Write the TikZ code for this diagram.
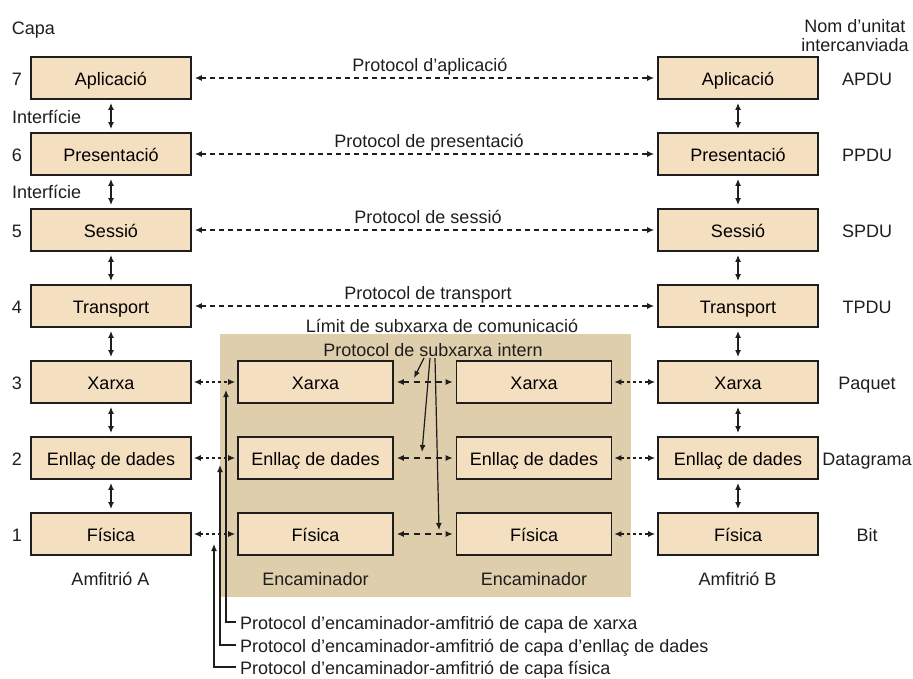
\documentclass[tikz,border=0pt]{standalone}
\usepackage{fontspec}
\setmainfont{Liberation Sans}
\usetikzlibrary{arrows.meta}
\definecolor{boxfill}{RGB}{244,224,192}
\definecolor{subnetbg}{RGB}{223,206,172}
\definecolor{ink}{RGB}{30,30,30}
\begin{document}
\begin{tikzpicture}[x=1pt,y=-1pt,
  font=\fontsize{18}{21}\selectfont,
  every node/.style={text height=15pt, text depth=0pt},
  tip/.tip={Latex[length=7pt,width=6pt]},
  hostbox/.style={draw=ink, line width=1.8pt, fill=boxfill, minimum width=160pt, minimum height=42pt, inner sep=0pt},
  routerbox/.style={hostbox, minimum width=155pt},
  lbl/.style={inner sep=0pt, text=ink},
  peer/.style={draw=ink, line width=1.1pt, dash pattern=on 5pt off 4pt, {tip}-{tip}, shorten <=3pt, shorten >=3pt},
  hop/.style={draw=ink, line width=1.1pt, dash pattern=on 3pt off 3pt, {tip}-{tip}, shorten <=2pt, shorten >=2pt},
  hopdash/.style={draw=ink, line width=1.1pt, dash pattern=on 6pt off 5pt, {tip}-{tip}, shorten <=3pt, shorten >=3pt},
  iface/.style={draw=ink, line width=1.4pt, {tip}-{tip}, shorten <=3pt, shorten >=3pt},
  pointer/.style={draw=ink, line width=1.2pt, -{tip}},
  bracket/.style={draw=ink, line width=1.2pt, -{tip}}]
\useasboundingbox (0,0) rectangle (913,679);

% communication subnet
\fill[subnetbg] (220,334) rectangle (631,597);

% hosts and routers
\foreach \n/\y/\t in {7/78/Aplicació, 6/154/Presentació, 5/230/Sessió, 4/306/Transport, 3/382/Xarxa, 2/458/Enllaç de dades, 1/534/Física}{
  \node[hostbox] (l\n) at (111,\y) {\t};
  \node[hostbox] (r\n) at (738,\y) {\t};
  \node[lbl] (num\n) at (17,\y) {\n};
}
\foreach \n/\y/\t in {3/382/Xarxa, 2/458/Enllaç de dades, 1/534/Física}{
  \node[routerbox] (a\n) at (315.5,\y) {\t};
  \node[routerbox] (b\n) at (534,\y) {\t};
}

% header labels
\node[lbl] (capa) at (33.5,27) {Capa};
\node[lbl, align=center, text height=, text depth=] (unitname) at (855,36) {Nom d’unitat\\[-2pt]intercanviada};
\node[lbl, anchor=west] (if1) at (12,116) {Interfície};
\node[lbl, anchor=west] (if2) at (12,191) {Interfície};

% exchanged unit names
\foreach \n/\y/\t in {7/78/APDU, 6/154/PPDU, 5/230/SPDU, 4/306/TPDU, 3/382/Paquet, 2/458/Datagrama, 1/534/Bit}{
  \node[lbl] (u\n) at (867,\y) {\t};
}

% interfaces between adjacent layers
\foreach \a/\b in {7/6, 6/5, 5/4, 4/3, 3/2, 2/1}{
  \draw[iface] (l\a.south) -- (l\b.north);
  \draw[iface] (r\a.south) -- (r\b.north);
}

% end-to-end peer protocols
\draw[peer] (l7.east) -- (r7.west);
\draw[peer] (l6.east) -- (r6.west);
\draw[peer] (l5.east) -- (r5.west);
\draw[peer] (l4.east) -- (r4.west);
\node[lbl] (p7) at (430,64) {Protocol d’aplicació};
\node[lbl] (p6) at (429,140) {Protocol de presentació};
\node[lbl] (p5) at (428,216) {Protocol de sessió};
\node[lbl] (p4) at (428,292) {Protocol de transport};
\node[lbl] (limit) at (442,325) {Límit de subxarxa de comunicació};
\node[lbl] (intern) at (433,349) {Protocol de subxarxa intern};

% hop-by-hop protocols
\foreach \n in {3,2,1}{
  \draw[hop] (l\n.east) -- (a\n.west);
  \draw[hopdash] (a\n.east) -- (b\n.west);
  \draw[hop] (b\n.east) -- (r\n.west);
}

% internal subnet protocol pointers
\coordinate (s3) at (424,358);
\coordinate (s2) at (430,358);
\coordinate (s1) at (435,358);
\coordinate (e3) at (414,378);
\coordinate (e2) at (422,452);
\coordinate (e1) at (439,530);
\draw[pointer] (s3) -- (e3);
\draw[pointer] (s2) -- (e2);
\draw[pointer] (s1) -- (e1);

% host names
\node[lbl] (hostA) at (110.5,578) {Amfitrió A};
\node[lbl] (hostB) at (737.5,578) {Amfitrió B};
\node[lbl] (routerA) at (315.5,578) {Encaminador};
\node[lbl] (routerB) at (534,578) {Encaminador};

% router-host protocols
\node[lbl, anchor=west] (rh3) at (240,622) {Protocol d’encaminador-amfitrió de capa de xarxa};
\node[lbl, anchor=west] (rh2) at (240,645) {Protocol d’encaminador-amfitrió de capa d’enllaç de dades};
\node[lbl, anchor=west] (rh1) at (240,667) {Protocol d’encaminador-amfitrió de capa física};
\coordinate (t3) at (226,390);
\coordinate (t2) at (220,465);
\coordinate (t1) at (214,544);
\draw[bracket] ([xshift=-4pt]rh3.west) -| (t3);
\draw[bracket] ([xshift=-4pt]rh2.west) -| (t2);
\draw[bracket] ([xshift=-4pt]rh1.west) -| (t1);
\end{tikzpicture}
\end{document}
